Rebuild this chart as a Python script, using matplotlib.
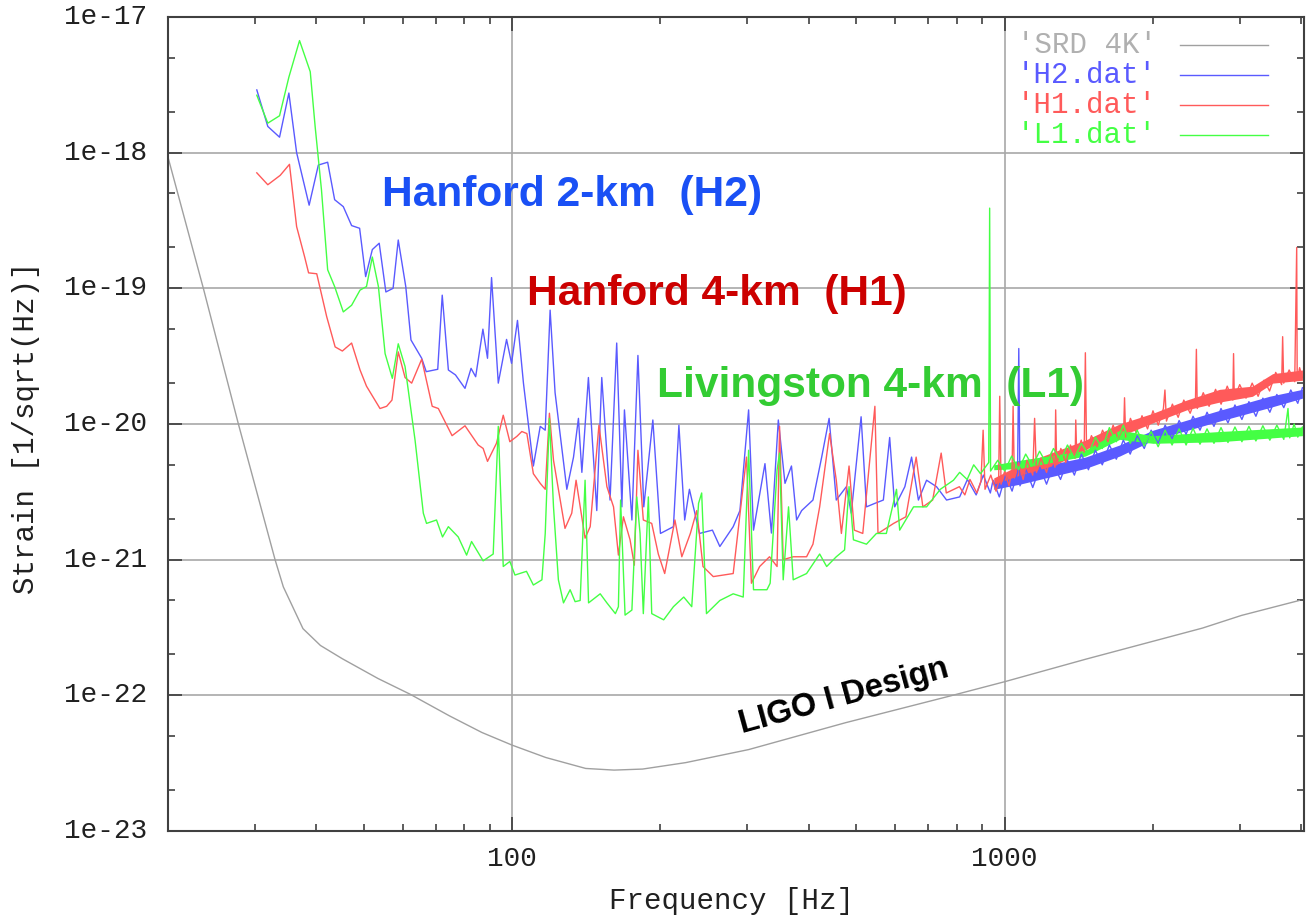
import matplotlib
matplotlib.use('Agg')  # no display
import matplotlib.pyplot as plt
from matplotlib.ticker import FixedLocator, FuncFormatter, NullFormatter
import numpy as np

# LIGO I design sensitivity (SRD 4K)
srd_freq = [20, 23.6, 27.8, 33.0, 34.3, 37.6, 40.8, 45.2, 53.4, 62.0, 74.6, 86.8, 100,
            117, 141, 161, 184, 225, 302, 475, 776, 1000, 1464, 2521, 3025, 3963]
srd_strain = [9.3e-19, 1.0e-19, 1.0e-20, 1.0e-21, 6.3e-22, 3.1e-22, 2.33e-22, 1.86e-22,
              1.33e-22, 1.02e-22, 7.05e-23, 5.32e-23, 4.29e-23, 3.48e-23, 2.89e-23,
              2.81e-23, 2.86e-23, 3.19e-23, 3.98e-23, 6.28e-23, 9.9e-23, 1.26e-22,
              1.85e-22, 3.13e-22, 3.88e-22, 5.0e-22]

# Hanford 2-km (H2.dat)
h2_freq = [30.3, 31.9, 33.7, 35.2, 36.5, 38.7, 40.4, 42.2, 43.6, 45.4,
           47.2, 49.0, 50.4, 52.0, 53.7, 55.4, 57.3, 58.7, 60.8, 62.3,
           65.5, 66.9, 70.6, 72.1, 74.2, 76.7, 80.2, 82.5, 84.3, 87.2,
           89.1, 90.8, 93.7, 97.4, 99.7, 102.5, 105.4, 110.4, 114.0, 116.7,
           119.4, 122.2, 129.1, 133.2, 136.3, 138.5, 142.8, 148.5, 152, 158,
           163, 167, 169, 175, 180, 185, 193, 200, 212.5, 218,
           224, 229, 240, 255, 264, 281, 290, 302, 309, 326,
           336, 347, 358, 369, 378, 387, 408, 425, 440, 455,
           477, 488, 511, 524, 545, 567, 584, 598, 627, 647,
           668, 694, 727, 762, 810, 840, 875, 905, 935, 947,
           975, 1004, 1035, 1062, 1068, 1074, 1105, 1140, 1179, 1216,
           1256, 1298, 1341, 1385, 1431, 1479, 1528, 1578, 1631, 1685,
           1741, 1798, 1858, 1920, 1983, 2049, 2117, 2187, 2260, 2335,
           2412, 2492, 2575, 2660, 2749, 2840, 2934, 3031, 3132, 3236,
           3343, 3454, 3569, 3687, 3809, 3936, 4022]
h2_strain = [2.9e-18, 1.56e-18, 1.3e-18, 2.75e-18, 1.0e-18, 4.1e-19, 8.1e-19, 8.5e-19, 4.5e-19, 4.0e-19,
             2.9e-19, 2.77e-19, 1.22e-19, 1.93e-19, 2.15e-19, 9.4e-20, 1.0e-19, 2.27e-19, 1.03e-19, 4.16e-20,
             3.05e-20, 2.43e-20, 2.53e-20, 8.9e-20, 2.5e-20, 2.3e-20, 1.83e-20, 2.57e-20, 2.23e-20, 5.0e-20,
             3.05e-20, 1.2e-19, 2.0e-20, 4.2e-20, 2.8e-20, 5.8e-20, 2.0e-20, 4.9e-21, 9.6e-21, 9.0e-21,
             6.9e-20, 1.7e-20, 3.3e-21, 5.7e-21, 1.1e-20, 4.4e-21, 2.2e-20, 2.3e-21, 2.2e-20, 2.75e-21,
             3.95e-20, 2.45e-21, 1.27e-20, 1.96e-21, 3.2e-20, 2.45e-21, 1.07e-20, 1.56e-21, 1.75e-21, 9.8e-21,
             1.96e-21, 3.3e-21, 1.56e-21, 1.65e-21, 1.25e-21, 1.75e-21, 2.3e-21, 1.27e-20, 1.65e-21, 5.1e-21,
             1.57e-21, 1.07e-20, 3.65e-21, 4.9e-21, 1.96e-21, 2.3e-21, 2.75e-21, 5.7e-21, 1.1e-20, 2.75e-21,
             3.45e-21, 2.2e-21, 1.13e-20, 2.45e-21, 2.6e-21, 2.75e-21, 7.95e-21, 2.45e-21, 3.45e-21, 5.7e-21,
             2.75e-21, 3.85e-21, 3.45e-21, 2.75e-21, 2.9e-21, 3.9e-21, 3.0e-21, 4.2e-21, 3.1e-21, 3.85e-21,
             2.9e-21, 4.2e-21, 3.2e-21, 4.4e-21, 3.6e-20, 3.5e-21, 4.6e-21, 3.4e-21, 4.8e-21, 3.6e-21,
             5.0e-21, 3.9e-21, 5.4e-21, 4.2e-21, 6.0e-21, 4.6e-21, 6.4e-21, 5.0e-21, 7.0e-21, 5.5e-21,
             7.6e-21, 6.0e-21, 8.2e-21, 6.6e-21, 9.0e-21, 7.2e-21, 9.8e-21, 7.8e-21, 1.06e-20, 8.4e-21,
             1.14e-20, 9.0e-21, 1.22e-20, 9.6e-21, 1.3e-20, 1.02e-20, 1.38e-20, 1.08e-20, 1.46e-20, 1.14e-20,
             1.55e-20, 1.22e-20, 1.65e-20, 1.32e-20, 1.78e-20, 1.42e-20, 1.85e-20]
h2_band_freq = [950, 1073, 1458, 1711, 2000, 2730, 3447, 4022]
h2_band_lo = [3.3e-21, 3.6e-21, 4.7e-21, 5.8e-21, 7.6e-21, 1.05e-20, 1.32e-20, 1.55e-20]
h2_band_hi = [3.7e-21, 4.5e-21, 5.7e-21, 7.0e-21, 9.0e-21, 1.26e-20, 1.6e-20, 1.8e-20]

# Hanford 4-km (H1.dat)
h1_freq = [30.3, 31.9, 33.8, 35.3, 36.5, 37.9, 38.6, 40.1, 42.0, 43.7,
           45.2, 47.2, 49.1, 50.6, 53.9, 55.6, 57.0, 58.7, 60.6, 62.5,
           65.5, 68.8, 70.8, 75.5, 80.2, 85.3, 87.3, 89.1, 92.9, 95.9,
           98.9, 102.2, 104.6, 107.1, 110.4, 114.0, 116.7, 119.0, 121.3, 128.0,
           132.1, 134.8, 140.6, 144.0, 150.0, 155.7, 160.6, 164.3, 168.2, 173.5,
           177, 180, 184.6, 192, 198, 204, 214, 221, 230, 237,
           244, 256, 281, 299, 306, 318, 333, 345, 349, 355,
           372, 396, 408, 421, 441, 455, 466, 483, 495, 515,
           545, 553, 595, 630, 661, 682, 714, 743, 761, 809,
           830, 850, 878, 895, 904, 912, 937, 960, 972, 977,
           983, 1000, 1020, 1035, 1040, 1046, 1067, 1090, 1110, 1140,
           1150, 1160, 1185, 1216, 1245, 1265, 1269, 1275, 1300, 1330,
           1360, 1390, 1394, 1400, 1430, 1450, 1458, 1466, 1500, 1540,
           1580, 1620, 1660, 1700, 1745, 1751, 1760, 1800, 1850, 1900,
           1950, 2000, 2050, 2100, 2115, 2130, 2190, 2250, 2310, 2380,
           2440, 2450, 2460, 2530, 2600, 2680, 2750, 2830, 2905, 2915,
           2925, 3000, 3090, 3180, 3270, 3360, 3450, 3550, 3650, 3667,
           3685, 3780, 3880, 3916, 3925, 3970, 4022]
h1_strain = [7.1e-19, 5.8e-19, 6.8e-19, 8.2e-19, 2.85e-19, 1.7e-19, 1.3e-19, 1.28e-19, 6.2e-20, 3.7e-20,
             3.45e-20, 3.95e-20, 2.5e-20, 1.9e-20, 1.3e-20, 1.35e-20, 1.5e-20, 3.4e-20, 2.2e-20, 2.0e-20,
             3.0e-20, 1.35e-20, 1.3e-20, 8.2e-21, 9.7e-21, 7.0e-21, 6.6e-21, 5.3e-21, 7.2e-21, 1.16e-20,
             7.4e-21, 8.1e-21, 8.8e-21, 8.5e-21, 4.3e-21, 3.65e-21, 3.3e-21, 1.2e-20, 5.4e-21, 1.7e-21,
             2.2e-21, 3.85e-21, 1.44e-21, 1.75e-21, 9.8e-21, 3.45e-21, 2.45e-21, 1.08e-21, 2.07e-21, 1.4e-21,
             9.1e-22, 6.4e-21, 1.96e-21, 1.85e-21, 1.1e-21, 7.9e-22, 1.96e-21, 1.05e-21, 1.56e-21, 2.3e-21,
             8.9e-22, 7.5e-22, 7.9e-22, 5.7e-21, 6.7e-22, 8.9e-22, 1.05e-21, 8.9e-22, 9.6e-21, 1.0e-21,
             1.05e-21, 1.05e-21, 1.3e-21, 2.45e-21, 8.5e-21, 3.85e-21, 1.56e-21, 4.9e-21, 1.65e-21, 1.56e-21,
             1.35e-20, 1.56e-21, 1.85e-21, 2.07e-21, 5.7e-21, 2.45e-21, 2.75e-21, 6.1e-21, 3.1e-21, 3.45e-21,
             3.0e-21, 3.9e-21, 3.1e-21, 3.8e-21, 9.0e-21, 3.3e-21, 4.2e-21, 3.2e-21, 3.7e-21, 1.6e-20,
             3.6e-21, 4.5e-21, 3.5e-21, 4.6e-21, 1.35e-20, 4.0e-21, 5.2e-21, 3.9e-21, 5.4e-21, 4.2e-21,
             1.1e-20, 4.4e-21, 5.6e-21, 4.4e-21, 6.2e-21, 4.8e-21, 1.27e-20, 5.0e-21, 6.6e-21, 5.2e-21,
             7.0e-21, 5.6e-21, 1.07e-20, 6.0e-21, 7.6e-21, 6.2e-21, 3.35e-20, 6.4e-21, 8.2e-21, 6.8e-21,
             9.0e-21, 7.4e-21, 9.8e-21, 7.8e-21, 9.6e-21, 1.56e-20, 8.0e-21, 1.1e-20, 8.6e-21, 1.15e-20,
             9.2e-21, 1.25e-20, 9.8e-21, 1.3e-20, 1.78e-20, 1.05e-20, 1.4e-20, 1.12e-20, 1.5e-20, 1.2e-20,
             1.55e-20, 3.55e-20, 1.3e-20, 1.7e-20, 1.35e-20, 1.8e-20, 1.4e-20, 1.9e-20, 1.5e-20, 3.3e-20,
             1.55e-20, 1.95e-20, 1.55e-20, 2.0e-20, 1.6e-20, 2.1e-20, 1.75e-20, 2.4e-20, 1.95e-20, 4.4e-20,
             2.0e-20, 2.5e-20, 2.05e-20, 2.0e-19, 2.1e-20, 2.6e-20, 2.2e-20]
h1_band_freq = [950, 1073, 1269, 1458, 1711, 2000, 2340, 2730, 3184, 3500, 4022]
h1_band_lo = [3.6e-21, 4.2e-21, 5.0e-21, 6.5e-21, 8.1e-21, 1.02e-20, 1.27e-20, 1.45e-20, 1.6e-20, 2.0e-20, 2.1e-20]
h1_band_hi = [4.0e-21, 5.0e-21, 6.3e-21, 7.6e-21, 1.0e-20, 1.2e-20, 1.5e-20, 1.8e-20, 1.9e-20, 2.35e-20, 2.5e-20]

# Livingston 4-km (L1.dat)
l1_freq = [30.3, 31.9, 33.7, 35.2, 37.0, 38.9, 39.8, 41.0, 42.2, 43.6,
           45.4, 47.2, 49.1, 50.6, 52.0, 53.5, 55.2, 57.1, 58.7, 60.6,
           63.5, 66.0, 67.0, 70.2, 72.2, 74.2, 77.7, 80.8, 82.7, 87.3,
           91.5, 93.7, 95.9, 98.9, 101.3, 106.9, 110.4, 114.9, 116.7, 119.0,
           121.3, 124.1, 127.1, 131.1, 134.2, 137.4, 140.6, 142.9, 150.9, 155.7,
           162, 164.3, 166, 169.5, 175, 179, 181.8, 184.6, 189, 192,
           203, 212.5, 223, 231.5, 239, 242.5, 248, 264, 281, 294.5,
           302, 309, 329, 334, 345, 349, 355, 364, 372, 396,
           421, 435, 455, 473, 483, 493, 524, 549, 575, 603,
           612, 653, 694, 740, 787, 810, 839, 865, 893, 928,
           932, 936, 968, 1000, 1033, 1067, 1103, 1139, 1177, 1216,
           1256, 1298, 1341, 1385, 1431, 1479, 1528, 1578, 1631, 1685,
           1741, 1798, 1858, 1920, 1983, 2049, 2117, 2187, 2260, 2335,
           2412, 2492, 2575, 2660, 2749, 2840, 2934, 3031, 3132, 3236,
           3343, 3454, 3569, 3687, 3760, 3790, 3870, 3936, 4022]
l1_strain = [2.65e-18, 1.65e-18, 1.87e-18, 3.6e-18, 6.7e-18, 3.95e-18, 1.56e-18, 5.3e-19, 1.37e-19, 1.03e-19,
             6.7e-20, 7.5e-20, 9.7e-20, 1.03e-19, 1.7e-19, 1.03e-19, 3.3e-20, 2.17e-20, 3.9e-20, 2.65e-20,
             7.6e-21, 2.2e-21, 1.85e-21, 1.96e-21, 1.47e-21, 1.75e-21, 1.47e-21, 1.08e-21, 1.36e-21, 9.8e-22,
             1.1e-21, 9.6e-21, 8.9e-22, 9.7e-22, 7.7e-22, 8.2e-22, 6.5e-22, 7.1e-22, 1.56e-21, 1.1e-20,
             2.45e-21, 7.1e-22, 4.8e-22, 6.0e-22, 4.9e-22, 5.0e-22, 3.85e-21, 4.8e-22, 5.6e-22, 4.8e-22,
             4.0e-22, 4.5e-22, 2.75e-21, 3.9e-22, 4.25e-22, 2.9e-21, 1.56e-21, 4.0e-22, 2.9e-21, 4.0e-22,
             3.6e-22, 4.5e-22, 5.3e-22, 4.5e-22, 2.6e-21, 3.1e-21, 4.0e-22, 5.0e-22, 5.6e-22, 5.3e-22,
             6.4e-21, 6.0e-22, 6.0e-22, 6.7e-22, 4.6e-21, 6.1e-21, 7.1e-22, 2.45e-21, 7.1e-22, 7.9e-22,
             1.1e-21, 8.9e-22, 1.05e-21, 1.18e-21, 3.45e-21, 1.4e-21, 1.3e-21, 1.56e-21, 1.56e-21, 3.3e-21,
             1.65e-21, 2.45e-21, 2.45e-21, 3.3e-21, 3.85e-21, 4.4e-21, 3.9e-21, 5.0e-21, 4.3e-21, 5.2e-21,
             3.9e-19, 4.5e-21, 5.4e-21, 4.5e-21, 5.8e-21, 4.6e-21, 6.0e-21, 4.9e-21, 6.3e-21, 5.1e-21,
             6.6e-21, 5.4e-21, 7.0e-21, 5.6e-21, 7.2e-21, 6.0e-21, 8.0e-21, 6.6e-21, 9.4e-21, 7.4e-21,
             9.8e-21, 7.2e-21, 9.0e-21, 6.9e-21, 8.8e-21, 6.8e-21, 9.0e-21, 7.0e-21, 9.2e-21, 7.0e-21,
             9.3e-21, 7.1e-21, 9.2e-21, 7.2e-21, 9.4e-21, 7.3e-21, 9.5e-21, 7.4e-21, 9.6e-21, 7.5e-21,
             9.7e-21, 7.6e-21, 9.8e-21, 7.7e-21, 1.3e-20, 7.9e-21, 1.0e-20, 8.0e-21, 9.5e-21]
l1_band_freq = [950, 1073, 1458, 1711, 2000, 2730, 4022]
l1_band_lo = [4.6e-21, 4.7e-21, 5.8e-21, 7.7e-21, 7.2e-21, 7.4e-21, 8.2e-21]
l1_band_hi = [5.0e-21, 5.4e-21, 6.4e-21, 9.0e-21, 8.2e-21, 8.8e-21, 9.5e-21]

# axis ticks
x_major = [100, 1000]
x_minor = [30, 40, 50, 60, 70, 80, 90, 200, 300, 400, 500, 600, 700, 800, 900, 2000, 3000, 4000]
y_major = [1e-23, 1e-22, 1e-21, 1e-20, 1e-19, 1e-18, 1e-17]
y_minor = [2e-23, 5e-23, 2e-22, 5e-22, 2e-21, 5e-21, 2e-20, 5e-20, 2e-19, 5e-19, 2e-18, 5e-18]

legend_labels = ["'SRD 4K'", "'H2.dat'", "'H1.dat'", "'L1.dat'"]

SRD_COLOR = '#a0a0a0'
H2_COLOR = '#5a5aff'
H1_COLOR = '#ff5a5a'
L1_COLOR = '#44ff44'

plt.rcParams['font.family'] = ['Liberation Mono', 'DejaVu Sans Mono']

fig = plt.figure(figsize=(13.09, 9.18), dpi=100)
ax = fig.add_axes([0.1283, 0.0948, 0.8678, 0.8867])
ax.set_xscale('log')
ax.set_yscale('log')

ax.plot(srd_freq, srd_strain, color=SRD_COLOR, lw=1.0)
ax.fill_between(h2_band_freq, h2_band_lo, h2_band_hi, color=H2_COLOR, lw=0)
ax.plot(h2_freq, h2_strain, color=H2_COLOR, lw=1.0)
ax.fill_between(h1_band_freq, h1_band_lo, h1_band_hi, color=H1_COLOR, lw=0)
ax.plot(h1_freq, h1_strain, color=H1_COLOR, lw=1.0)
ax.fill_between(l1_band_freq, l1_band_lo, l1_band_hi, color=L1_COLOR, lw=0)
ax.plot(l1_freq, l1_strain, color=L1_COLOR, lw=1.0)

ax.set_xlim(20, 4050)
ax.set_ylim(1e-23, 1e-17)

# gnuplot-like ticks: inward, mirrored on all four sides
ax.xaxis.set_major_locator(FixedLocator(x_major))
ax.xaxis.set_minor_locator(FixedLocator(x_minor))
ax.yaxis.set_major_locator(FixedLocator(y_major))
ax.yaxis.set_minor_locator(FixedLocator(y_minor))
ax.xaxis.set_major_formatter(FuncFormatter(lambda v, _: f'{v:.0f}'))
ax.yaxis.set_major_formatter(FuncFormatter(lambda v, _: f'1e{int(round(np.log10(v)))}'))
ax.xaxis.set_minor_formatter(NullFormatter())
ax.yaxis.set_minor_formatter(NullFormatter())

ax.tick_params(which='both', direction='in', top=True, right=True,
               color='#303030', width=1.1, labelsize=20, labelcolor='#202020')
ax.tick_params(which='major', length=10)
ax.tick_params(which='minor', length=5)
ax.tick_params(axis='x', which='major', pad=11)
ax.tick_params(axis='y', which='major', pad=15)
for lab in ax.get_yticklabels():
    lab.set_verticalalignment('center')

ax.grid(which='major', color='#a8a8a8', lw=1.2)
ax.set_axisbelow(True)
for sp in ax.spines.values():
    sp.set_color('#404040')
    sp.set_linewidth(1.5)

fig.text(0.5585, 1 - 909 / 918, 'Frequency [Hz]', ha='center', va='baseline',
         fontsize=21, color='#202020')
fig.text(0.0199, 1 - 428 / 918, 'Strain [1/sqrt(Hz)]', ha='center', va='center',
         rotation=90, fontsize=21, color='#202020')

# detector labels
bold = dict(family=['Liberation Sans', 'DejaVu Sans'], fontweight='bold', va='center', ha='left')
ax.text(54.5, 4.9e-19, 'Hanford 2-km  (H2)', color='#1a50f5', fontsize=30.6, **bold)
ax.text(107.3, 9.1e-20, 'Hanford 4-km  (H1)', color='#cc0000', fontsize=30.6, **bold)
ax.text(196.8, 1.9e-20, 'Livingston 4-km  (L1)', color='#33cc33', fontsize=30.6, **bold)
ax.text(471, 9.8e-23, 'LIGO I Design', color='black', fontsize=23.5, rotation=15.3,
        rotation_mode='anchor', family=['Liberation Sans', 'DejaVu Sans'],
        fontweight='bold', ha='center', va='center')

# key in the top right corner, text to the left of the sample line
key_colors = ['#b0b0b0', H2_COLOR, H1_COLOR, L1_COLOR]
line_colors = [SRD_COLOR, H2_COLOR, H1_COLOR, L1_COLOR]
for i, (lab, tc, lc) in enumerate(zip(legend_labels, key_colors, line_colors)):
    yy = 0.9656 - i * 0.0369
    ax.text(0.8706, yy, lab, transform=ax.transAxes, ha='right', va='center',
            fontsize=21, color=tc)
    ax.plot([0.8908, 0.9683], [yy, yy], transform=ax.transAxes, color=lc, lw=1.0)

fig.savefig('out.png', dpi=100)
plt.close(fig)
